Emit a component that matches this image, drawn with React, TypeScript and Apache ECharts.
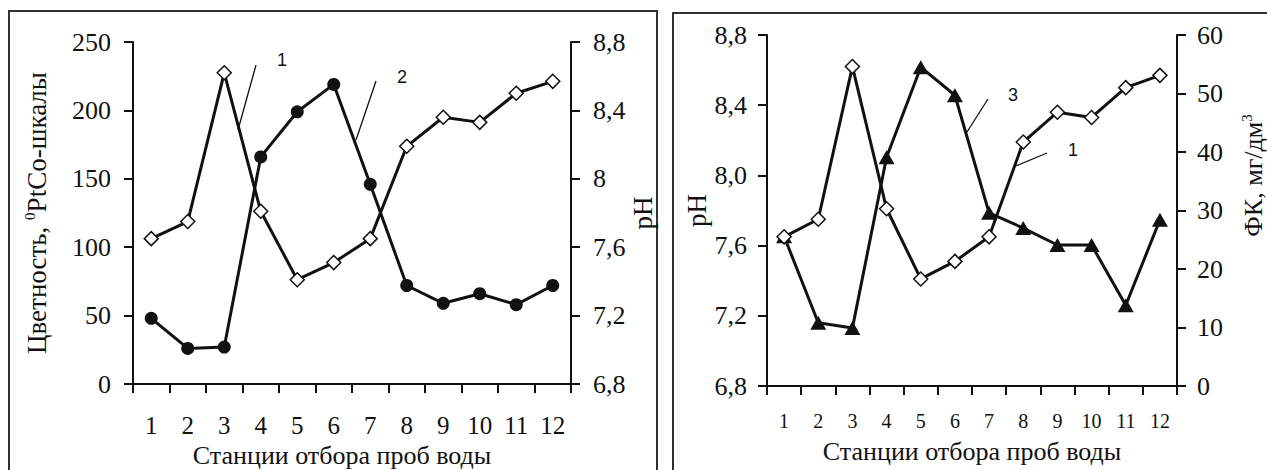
import React, { useEffect, useRef } from "react";
import * as echarts from "echarts";

const stations = ["1", "2", "3", "4", "5", "6", "7", "8", "9", "10", "11", "12"];
const phValues = [7.65, 7.75, 8.62, 7.81, 7.41, 7.51, 7.65, 8.19, 8.36, 8.33, 8.5, 8.57];
const colorValues = [48, 26, 27, 166, 199, 219, 146, 72, 59, 66, 58, 72];
const fkValues = [25.6, 10.8, 9.9, 39.1, 54.5, 49.7, 29.6, 27.0, 24.1, 24.1, 13.8, 28.4];

const colorTicks = ["0", "50", "100", "150", "200", "250"];
const phTicksLeftChart = ["6,8", "7,2", "7,6", "8", "8,4", "8,8"];
const phTicksRightChart = ["6,8", "7,2", "7,6", "8,0", "8,4", "8,8"];
const fkTicks = ["0", "10", "20", "30", "40", "50", "60"];

const xName = "Станции отбора проб воды";
const colorName = "Цветность, {sup|0}PtCo-шкалы";
const phName = "pH";
const fkName = "ФК, мг/дм{sup|3}";

const SERIF = "'Liberation Serif', 'Times New Roman', serif";
const SANS = "'Liberation Sans', Arial, sans-serif";
const INK = "#111";

function axisBase() {
  return {
    axisLine: { show: true, lineStyle: { color: INK, width: 2 } },
    axisTick: { show: true, length: 9, lineStyle: { color: INK, width: 2 } },
    splitLine: { show: false },
  };
}

export default function App() {
  const ref = useRef<HTMLDivElement>(null);
  useEffect(() => {
    if (!ref.current) return;
    const chart = echarts.init(ref.current, undefined, { renderer: "svg" });
    const supRich = {
      sup: { fontSize: 15, verticalAlign: "top", fontFamily: SERIF, color: INK, padding: [0, 0, 14, 0] },
    };
    const option: any = {
      animation: false,
      backgroundColor: "#fff",
      grid: [
        { left: 133, top: 42, width: 438, height: 342, containLabel: false, outerBoundsMode: "none" },
        { left: 767, top: 35, width: 410, height: 351, containLabel: false, outerBoundsMode: "none" },
      ],
      xAxis: [
        {
          ...axisBase(),
          gridIndex: 0,
          type: "category",
          data: stations,
          boundaryGap: true,
          axisLabel: { margin: 29, fontSize: 25, fontFamily: SERIF, color: INK },
          name: xName,
          nameLocation: "middle",
          nameGap: 56,
          nameTextStyle: { fontSize: 26, fontFamily: SERIF, color: INK, padding: [0, 20, 0, 0] },
        },
        {
          ...axisBase(),
          gridIndex: 1,
          type: "category",
          data: stations,
          boundaryGap: true,
          axisLabel: { margin: 25, fontSize: 20, fontFamily: SERIF, color: INK },
          name: xName,
          nameLocation: "middle",
          nameGap: 52,
          nameTextStyle: { fontSize: 26, fontFamily: SERIF, color: INK },
        },
      ],
      yAxis: [
        {
          ...axisBase(),
          gridIndex: 0,
          type: "value",
          position: "left",
          min: 0,
          max: 250,
          interval: 50,
          axisLabel: {
            margin: 22,
            fontSize: 26,
            fontFamily: SERIF,
            color: INK,
            formatter: (v: number) => colorTicks[Math.round(v / 50)],
          },
          name: colorName,
          nameLocation: "middle",
          nameGap: 82,
          nameRotate: 90,
          nameTextStyle: { fontSize: 27, fontFamily: SERIF, color: INK, rich: supRich },
        },
        {
          ...axisBase(),
          gridIndex: 0,
          type: "value",
          position: "right",
          min: 6.8,
          max: 8.8,
          interval: 0.4,
          axisLabel: {
            margin: 22,
            fontSize: 26,
            fontFamily: SERIF,
            color: INK,
            formatter: (v: number) => phTicksLeftChart[Math.round((v - 6.8) / 0.4)],
          },
          name: phName,
          nameLocation: "middle",
          nameGap: 49,
          nameRotate: 90,
          nameTextStyle: { fontSize: 27, fontFamily: SERIF, color: INK },
        },
        {
          ...axisBase(),
          gridIndex: 1,
          type: "value",
          position: "left",
          min: 6.8,
          max: 8.8,
          interval: 0.4,
          axisLabel: {
            margin: 20,
            fontSize: 26,
            fontFamily: SERIF,
            color: INK,
            formatter: (v: number) => phTicksRightChart[Math.round((v - 6.8) / 0.4)],
          },
          name: phName,
          nameLocation: "middle",
          nameGap: 57,
          nameRotate: 90,
          nameTextStyle: { fontSize: 27, fontFamily: SERIF, color: INK },
        },
        {
          ...axisBase(),
          gridIndex: 1,
          type: "value",
          position: "right",
          min: 0,
          max: 60,
          interval: 10,
          axisLabel: {
            margin: 20,
            fontSize: 26,
            fontFamily: SERIF,
            color: INK,
            formatter: (v: number) => fkTicks[Math.round(v / 10)],
          },
          name: fkName,
          nameLocation: "middle",
          nameGap: 62,
          nameRotate: 90,
          nameTextStyle: {
            fontSize: 26,
            fontFamily: SERIF,
            color: INK,
            rich: supRich,
            padding: [0, 0, 0, 70],
          },
        },
      ],
      series: [
        {
          type: "line",
          xAxisIndex: 0,
          yAxisIndex: 0,
          data: colorValues,
          symbol: "circle",
          symbolSize: 13,
          lineStyle: { color: INK, width: 3 },
          itemStyle: { color: INK },
        },
        {
          type: "line",
          xAxisIndex: 0,
          yAxisIndex: 1,
          data: phValues,
          symbol: "diamond",
          symbolSize: 14,
          lineStyle: { color: INK, width: 3 },
          itemStyle: { color: "#fff", borderColor: INK, borderWidth: 1.5 },
        },
        {
          type: "line",
          xAxisIndex: 1,
          yAxisIndex: 3,
          data: fkValues,
          symbol: "triangle",
          symbolSize: [16, 14],
          lineStyle: { color: INK, width: 3 },
          itemStyle: { color: INK },
        },
        {
          type: "line",
          xAxisIndex: 1,
          yAxisIndex: 2,
          data: phValues,
          symbol: "diamond",
          symbolSize: 14,
          lineStyle: { color: INK, width: 3 },
          itemStyle: { color: "#fff", borderColor: INK, borderWidth: 1.5 },
        },
      ],
      graphic: [
        { type: "rect", silent: true, shape: { x: 9, y: 11, width: 648, height: 480 }, style: { fill: "none", stroke: "#333", lineWidth: 2 } },
        { type: "rect", silent: true, shape: { x: 673, y: 13, width: 620, height: 480 }, style: { fill: "none", stroke: "#333", lineWidth: 2 } },
        { type: "line", shape: { x1: 256, y1: 65, x2: 238, y2: 130 }, style: { stroke: INK, lineWidth: 1.3 } },
        { type: "text", x: 282, y: 60, style: { text: "1", font: `18px ${SANS}`, fill: INK, align: "center", verticalAlign: "middle" } },
        { type: "line", shape: { x1: 376, y1: 81, x2: 356, y2: 140 }, style: { stroke: INK, lineWidth: 1.3 } },
        { type: "text", x: 402, y: 77, style: { text: "2", font: `18px ${SANS}`, fill: INK, align: "center", verticalAlign: "middle" } },
        { type: "line", shape: { x1: 988, y1: 99, x2: 967, y2: 132 }, style: { stroke: INK, lineWidth: 1.3 } },
        { type: "text", x: 1013, y: 95, style: { text: "3", font: `18px ${SANS}`, fill: INK, align: "center", verticalAlign: "middle" } },
        { type: "line", shape: { x1: 1047, y1: 153, x2: 1016, y2: 166 }, style: { stroke: INK, lineWidth: 1.3 } },
        { type: "text", x: 1073, y: 150, style: { text: "1", font: `18px ${SANS}`, fill: INK, align: "center", verticalAlign: "middle" } },
      ],
    };
    chart.setOption(option);
    return () => chart.dispose();
  }, []);
  return (
    <div
      ref={ref}
      style={{ position: "absolute", left: 0, top: 0, width: 1267, height: 470, background: "#fff" }}
    />
  );
}
